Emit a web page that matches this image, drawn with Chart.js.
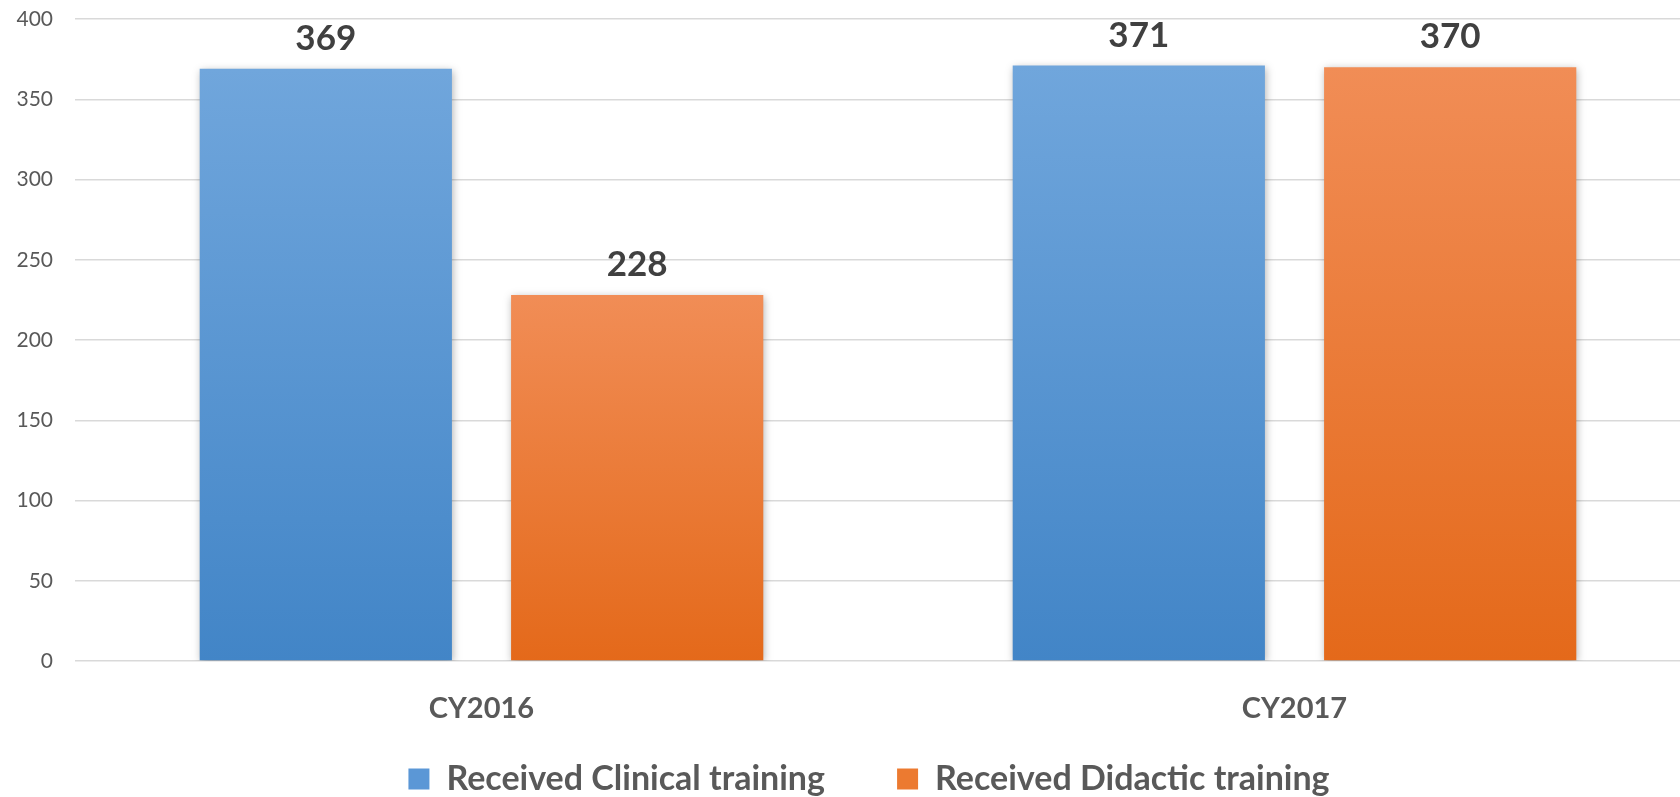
<!DOCTYPE html>
<html>
<head>
<meta charset="utf-8">
<script src="https://cdn.jsdelivr.net/npm/chart.js@4.4.1/dist/chart.umd.min.js"></script>
<style>
  html, body { margin: 0; padding: 0; background: #fff; overflow: hidden; }
  #wrap { width: 1680px; height: 797px; overflow: hidden; }
</style>
</head>
<body>
<div id="wrap"><canvas id="chart" width="1738" height="806"></canvas></div>
<script>
// Chart data
const categories = ['CY2016', 'CY2017'];
const clinicalValues = [369, 371];
const didacticValues = [228, 370];
const seriesNames = ['Received Clinical training', 'Received Didactic training'];
const yTicks = [0, 50, 100, 150, 200, 250, 300, 350, 400];

const FONT = "Lato, 'Open Sans', sans-serif";
const LEGEND_SIZE = 34;
const LEGEND_FONT = `bold ${LEGEND_SIZE}px ${FONT}`;

// vertical gradient per bar, light at the top
function barGradient(top, bottom) {
  return (context) => {
    const chart = context.chart;
    if (!chart.chartArea || context.type !== 'data') return bottom;
    const yScale = chart.scales.y;
    const yTop = yScale.getPixelForValue(context.raw);
    const yBottom = yScale.getPixelForValue(0);
    const g = chart.ctx.createLinearGradient(0, yTop, 0, yBottom);
    g.addColorStop(0, top);
    g.addColorStop(1, bottom);
    return g;
  };
}

const barShadow = {
  id: 'barShadow',
  beforeDatasetsDraw(chart) {
    const c = chart.ctx;
    c.save();
    c.shadowColor = 'rgba(0, 0, 0, 0.3)';
    c.shadowBlur = 8;
    c.shadowOffsetX = 1;
    c.shadowOffsetY = 2;
  },
  afterDatasetsDraw(chart) {
    chart.ctx.restore();
  }
};

const valueLabels = {
  id: 'valueLabels',
  afterDatasetsDraw(chart) {
    const ctx = chart.ctx;
    ctx.save();
    ctx.font = `bold 35px ${FONT}`;
    ctx.fillStyle = '#404040';
    ctx.textAlign = 'center';
    ctx.textBaseline = 'middle';
    chart.data.datasets.forEach((ds, i) => {
      chart.getDatasetMeta(i).data.forEach((bar, j) => {
        ctx.fillText(ds.data[j], bar.x, bar.y - 30);
      });
    });
    ctx.restore();
  }
};

const legendColors = ['#5b97d6', '#ec7a30'];

// pad the first legend entry so the gap between entries matches
function padLabel(chart, text, gap) {
  const ctx = chart.ctx;
  ctx.save();
  ctx.font = LEGEND_FONT;
  const base = ctx.measureText(text).width;
  let padded = text;
  while (ctx.measureText(padded).width - base < gap) padded += ' ';
  ctx.restore();
  return padded;
}

new Chart(document.getElementById('chart'), {
  type: 'bar',
  data: {
    labels: categories,
    datasets: [{
      label: seriesNames[0],
      data: clinicalValues,
      backgroundColor: barGradient('#70a6dc', '#4285c7'),
      borderWidth: 0,
      barPercentage: 0.81,
      categoryPercentage: 0.766
    }, {
      label: seriesNames[1],
      data: didacticValues,
      backgroundColor: barGradient('#f18d56', '#e4691a'),
      borderWidth: 0,
      barPercentage: 0.81,
      categoryPercentage: 0.766
    }]
  },
  options: {
    responsive: false,
    animation: false,
    layout: { padding: { top: 19, left: 0, right: 0, bottom: 0 } },
    scales: {
      x: {
        grid: { display: false, drawTicks: false },
        border: { display: false },
        ticks: {
          font: { family: FONT, size: 29, weight: 'bold' },
          color: '#595959',
          padding: 30
        },
        afterFit(scale) { scale.height = 95; }
      },
      y: {
        min: 0,
        max: 400,
        afterBuildTicks(scale) { scale.ticks = yTicks.map(v => ({ value: v })); },
        ticks: {
          font: { family: FONT, size: 21 },
          color: '#595959',
          padding: 22
        },
        grid: { color: '#d9d9d9', lineWidth: 1.5, drawTicks: false },
        border: { display: false },
        afterFit(scale) {
          scale.width = 75;
          scale.paddingTop = 0;
          scale.paddingBottom = 0;
        }
      },
      y2: {
        position: 'right',
        grid: { display: false, drawTicks: false },
        ticks: { display: false },
        border: { display: false },
        afterFit(scale) { scale.width = 37; }
      }
    },
    plugins: {
      tooltip: { enabled: false },
      legend: {
        position: 'bottom',
        labels: {
          font: { family: FONT, size: LEGEND_SIZE, weight: 'bold' },
          color: '#595959',
          boxWidth: 21,
          boxHeight: 21,
          padding: 6,
          generateLabels(chart) {
            return chart.data.datasets.map((ds, i) => ({
              text: i === 0 ? padLabel(chart, ds.label, 64) : ds.label,
              fillStyle: legendColors[i],
              strokeStyle: legendColors[i],
              lineWidth: 0,
              fontColor: '#595959',
              datasetIndex: i
            }));
          }
        }
      }
    }
  },
  plugins: [barShadow, valueLabels]
});
</script>
</body>
</html>
